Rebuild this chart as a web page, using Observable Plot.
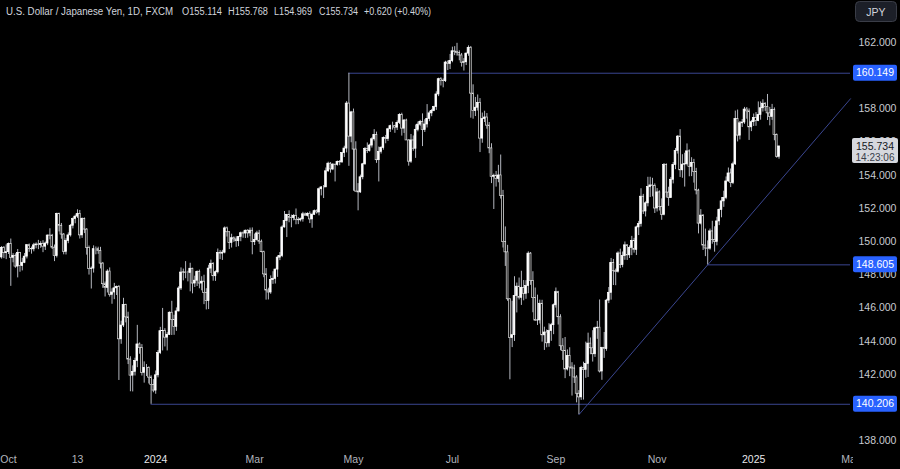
<!DOCTYPE html>
<html><head><meta charset="utf-8">
<script src="https://cdn.jsdelivr.net/npm/d3@7"></script>
<script src="https://cdn.jsdelivr.net/npm/@observablehq/plot@0.6"></script>
<style>
html,body{margin:0;padding:0;background:#000;overflow:hidden}
#chart{width:900px;height:469px}
</style></head><body><div id="chart"></div>
<script>
// ---------- DATA (USD/JPY daily, FXCM) ----------
const dates = [
"2023-09-27","2023-09-28","2023-09-29",
"2023-10-02","2023-10-03","2023-10-04","2023-10-05","2023-10-06","2023-10-09","2023-10-10","2023-10-11","2023-10-12","2023-10-13","2023-10-16","2023-10-17","2023-10-18","2023-10-19","2023-10-20","2023-10-23","2023-10-24","2023-10-25","2023-10-26","2023-10-27","2023-10-30","2023-10-31",
"2023-11-01","2023-11-02","2023-11-03","2023-11-06","2023-11-07","2023-11-08","2023-11-09","2023-11-10","2023-11-13","2023-11-14","2023-11-15","2023-11-16","2023-11-17","2023-11-20","2023-11-21","2023-11-22","2023-11-23","2023-11-24","2023-11-27","2023-11-28","2023-11-29","2023-11-30",
"2023-12-01","2023-12-04","2023-12-05","2023-12-06","2023-12-07","2023-12-08","2023-12-11","2023-12-12","2023-12-13","2023-12-14","2023-12-15","2023-12-18","2023-12-19","2023-12-20","2023-12-21","2023-12-22","2023-12-26","2023-12-27","2023-12-28","2023-12-29",
"2024-01-02","2024-01-03","2024-01-04","2024-01-05","2024-01-08","2024-01-09","2024-01-10","2024-01-11","2024-01-12","2024-01-15","2024-01-16","2024-01-17","2024-01-18","2024-01-19","2024-01-22","2024-01-23","2024-01-24","2024-01-25","2024-01-26","2024-01-29","2024-01-30","2024-01-31",
"2024-02-01","2024-02-02","2024-02-05","2024-02-06","2024-02-07","2024-02-08","2024-02-09","2024-02-12","2024-02-13","2024-02-14","2024-02-15","2024-02-16","2024-02-19","2024-02-20","2024-02-21","2024-02-22","2024-02-23","2024-02-26","2024-02-27","2024-02-28","2024-02-29",
"2024-03-01","2024-03-04","2024-03-05","2024-03-06","2024-03-07","2024-03-08","2024-03-11","2024-03-12","2024-03-13","2024-03-14","2024-03-15","2024-03-18","2024-03-19","2024-03-20","2024-03-21","2024-03-22","2024-03-25","2024-03-26","2024-03-27","2024-03-28","2024-03-29",
"2024-04-01","2024-04-02","2024-04-03","2024-04-04","2024-04-05","2024-04-08","2024-04-09","2024-04-10","2024-04-11","2024-04-12","2024-04-15","2024-04-16","2024-04-17","2024-04-18","2024-04-19","2024-04-22","2024-04-23","2024-04-24","2024-04-25","2024-04-26","2024-04-29","2024-04-30",
"2024-05-01","2024-05-02","2024-05-03","2024-05-06","2024-05-07","2024-05-08","2024-05-09","2024-05-10","2024-05-13","2024-05-14","2024-05-15","2024-05-16","2024-05-17","2024-05-20","2024-05-21","2024-05-22","2024-05-23","2024-05-24","2024-05-27","2024-05-28","2024-05-29","2024-05-30","2024-05-31",
"2024-06-03","2024-06-04","2024-06-05","2024-06-06","2024-06-07","2024-06-10","2024-06-11","2024-06-12","2024-06-13","2024-06-14","2024-06-17","2024-06-18","2024-06-19","2024-06-20","2024-06-21","2024-06-24","2024-06-25","2024-06-26","2024-06-27","2024-06-28",
"2024-07-01","2024-07-02","2024-07-03","2024-07-04","2024-07-05","2024-07-08","2024-07-09","2024-07-10","2024-07-11","2024-07-12","2024-07-15","2024-07-16","2024-07-17","2024-07-18","2024-07-19","2024-07-22","2024-07-23","2024-07-24","2024-07-25","2024-07-26","2024-07-29","2024-07-30","2024-07-31",
"2024-08-01","2024-08-02","2024-08-05","2024-08-06","2024-08-07","2024-08-08","2024-08-09","2024-08-12","2024-08-13","2024-08-14","2024-08-15","2024-08-16","2024-08-19","2024-08-20","2024-08-21","2024-08-22","2024-08-23","2024-08-26","2024-08-27","2024-08-28","2024-08-29","2024-08-30",
"2024-09-02","2024-09-03","2024-09-04","2024-09-05","2024-09-06","2024-09-09","2024-09-10","2024-09-11","2024-09-12","2024-09-13","2024-09-16","2024-09-17","2024-09-18","2024-09-19","2024-09-20","2024-09-23","2024-09-24","2024-09-25","2024-09-26","2024-09-27","2024-09-30",
"2024-10-01","2024-10-02","2024-10-03","2024-10-04","2024-10-07","2024-10-08","2024-10-09","2024-10-10","2024-10-11","2024-10-14","2024-10-15","2024-10-16","2024-10-17","2024-10-18","2024-10-21","2024-10-22","2024-10-23","2024-10-24","2024-10-25","2024-10-28","2024-10-29","2024-10-30","2024-10-31",
"2024-11-01","2024-11-04","2024-11-05","2024-11-06","2024-11-07","2024-11-08","2024-11-11","2024-11-12","2024-11-13","2024-11-14","2024-11-15","2024-11-18","2024-11-19","2024-11-20","2024-11-21","2024-11-22","2024-11-25","2024-11-26","2024-11-27","2024-11-28","2024-11-29",
"2024-12-02","2024-12-03","2024-12-04","2024-12-05","2024-12-06","2024-12-09","2024-12-10","2024-12-11","2024-12-12","2024-12-13","2024-12-16","2024-12-17","2024-12-18","2024-12-19","2024-12-20","2024-12-23","2024-12-24","2024-12-26","2024-12-27","2024-12-30","2024-12-31",
"2025-01-02","2025-01-03","2025-01-06","2025-01-07","2025-01-08","2025-01-09","2025-01-10","2025-01-13","2025-01-14","2025-01-15","2025-01-16","2025-01-17"
];
const open = [
149.05,149.63,149.31,
149.37,149.86,149.03,149.13,148.50,149.32,148.53,148.73,149.10,149.79,149.56,149.54,149.78,149.83,149.80,149.86,149.70,149.89,150.37,150.36,149.64,149.13,
151.67,150.96,150.43,149.39,150.05,150.38,150.96,151.36,151.51,151.66,150.38,151.36,150.73,149.62,148.35,148.38,149.55,149.55,149.44,148.68,147.44,147.22,
148.20,146.80,146.94,147.19,147.27,144.12,144.95,146.18,145.44,142.90,141.93,142.16,142.82,143.81,143.60,142.10,142.40,142.40,141.81,141.37,
141.03,141.95,143.29,144.61,144.62,144.22,144.39,145.72,145.28,144.87,145.80,147.18,148.14,148.15,148.11,148.11,148.37,147.48,147.65,148.17,147.48,147.59,
146.92,146.43,148.38,148.67,147.92,148.16,149.32,149.28,149.34,150.80,150.57,149.93,150.21,150.14,150.03,150.28,150.51,150.49,150.66,150.50,150.66,
149.97,150.10,150.50,150.00,149.37,148.03,147.06,146.94,147.69,147.76,148.32,149.04,149.13,150.86,151.25,151.62,151.44,151.42,151.55,151.32,151.29,
151.35,151.65,151.56,151.68,151.34,151.62,151.84,151.76,153.16,153.27,153.27,154.24,154.70,154.35,154.64,154.63,154.81,154.78,155.34,155.61,158.32,156.33,
157.79,155.55,153.02,152.97,153.88,154.66,155.59,155.47,155.79,156.17,156.43,154.91,155.41,155.65,156.25,156.18,156.77,156.96,156.96,156.87,157.16,157.63,156.81,
157.30,156.10,154.82,156.10,155.60,156.74,157.05,157.21,156.72,157.06,157.40,157.73,157.87,158.11,158.87,159.79,159.70,159.67,160.79,160.70,
160.88,161.47,161.43,161.37,161.22,160.78,160.81,161.33,161.68,158.92,157.87,158.07,158.36,156.21,157.39,157.48,156.99,155.62,153.91,153.97,153.78,153.99,152.76,
149.98,149.36,146.53,144.19,144.37,146.73,147.29,146.62,147.22,146.86,147.33,149.28,147.63,146.60,145.25,145.26,146.26,144.36,144.53,143.88,144.62,144.97,
146.17,146.96,145.45,143.70,143.41,142.30,143.12,142.42,142.36,141.82,140.84,140.62,142.39,142.28,142.63,143.86,143.58,143.22,144.78,144.82,142.18,
143.60,143.53,146.45,146.92,148.71,148.22,148.19,149.29,148.59,149.13,149.78,149.18,149.63,150.04,149.51,150.86,151.06,152.71,151.82,152.31,153.29,153.39,153.36,
152.00,152.97,152.10,151.62,154.62,152.96,152.63,153.73,154.62,155.47,156.33,154.30,154.64,154.67,155.44,154.51,154.75,154.19,153.08,151.09,151.57,
149.77,149.59,149.58,150.62,150.10,149.99,151.22,151.91,152.43,152.64,153.63,154.11,153.53,154.66,157.39,156.39,157.13,157.18,157.96,157.85,156.89,
157.20,157.45,157.27,157.64,158.04,158.31,158.12,157.73,157.51,157.94,156.42,155.114
];
const high = [
149.71,149.71,149.81,
149.92,150.16,149.28,149.27,149.53,149.35,149.00,149.29,149.83,149.86,149.68,149.90,149.93,150.08,150.00,150.06,149.98,150.40,150.78,150.44,149.80,151.72,
151.72,151.10,150.49,150.18,150.53,151.04,151.43,151.60,151.92,151.88,151.43,151.43,150.79,149.74,148.48,149.75,149.68,149.67,149.66,148.75,147.57,148.31,
148.42,147.16,147.49,147.33,147.36,145.21,146.59,146.23,145.75,143.07,142.52,142.98,144.96,143.90,143.80,142.76,142.60,142.46,141.92,141.69,
142.21,143.44,144.84,145.98,144.76,144.52,145.77,146.41,145.57,146.01,147.29,148.42,148.35,148.80,148.22,148.70,148.40,147.92,148.24,148.29,147.89,147.98,
147.17,148.58,148.89,148.73,148.24,149.56,149.46,149.48,150.89,150.88,150.60,150.45,150.29,150.29,150.31,150.58,150.59,150.70,150.72,150.82,150.83,
150.46,150.63,150.68,150.10,149.43,148.38,147.20,147.94,148.19,148.35,149.15,149.35,150.96,151.82,151.64,151.86,151.60,151.64,151.97,151.45,151.42,
151.77,151.73,151.74,151.80,151.72,151.91,151.92,153.24,153.32,153.38,154.44,154.79,154.76,154.70,154.66,154.86,154.89,155.37,155.75,158.44,160.149,157.85,
157.99,156.02,153.50,154.01,154.72,155.67,155.95,155.87,156.26,156.75,156.60,155.70,155.73,156.31,156.40,156.83,157.02,157.20,157.01,157.28,157.71,157.74,157.36,
157.38,156.14,156.46,156.37,157.03,157.21,157.31,157.70,157.35,158.26,157.86,157.97,158.16,159.03,159.85,159.88,159.81,160.87,160.89,161.28,
161.72,161.75,161.95,161.50,161.34,161.03,161.37,161.80,161.76,159.45,158.69,158.84,158.62,157.75,157.86,157.72,157.18,155.90,154.07,154.23,154.60,155.22,153.09,
150.89,149.78,146.57,146.41,147.89,147.51,147.81,148.22,147.66,147.65,149.39,149.35,148.19,147.21,146.78,146.48,146.47,144.85,144.68,145.06,145.08,146.25,
147.21,147.01,145.60,144.16,144.23,143.48,143.61,142.71,142.56,141.93,141.03,142.49,142.74,143.95,144.49,144.20,144.64,144.85,145.20,146.49,143.64,
144.53,146.53,147.24,148.99,148.93,148.35,149.39,149.55,149.38,149.98,149.82,149.75,150.32,150.20,150.94,151.22,153.19,152.85,152.40,153.88,153.88,153.82,153.48,
153.20,153.06,152.58,154.71,154.69,153.28,153.87,154.77,155.62,156.39,156.75,155.24,155.33,155.89,155.53,155.06,154.96,154.42,153.16,151.93,151.63,
150.76,150.05,150.76,151.23,150.90,151.47,151.98,152.66,153.04,153.90,154.44,154.38,154.79,157.87,157.93,157.24,157.36,158.09,158.08,158.00,157.31,
157.69,157.78,158.42,158.42,158.55,158.37,158.87,158.09,158.27,158.06,156.49,155.768
];
const low = [
148.95,148.98,148.92,
149.23,147.31,148.73,148.40,147.82,148.16,148.24,148.68,148.96,149.36,149.25,149.39,149.57,149.52,149.60,149.34,149.47,149.76,150.11,149.53,148.80,149.02,
150.59,150.15,149.21,149.20,149.88,150.28,150.77,151.08,151.40,150.16,150.20,150.49,149.19,147.99,147.15,148.11,149.21,149.24,148.36,147.19,146.67,146.91,
146.66,146.23,146.51,146.76,141.64,143.82,144.83,145.11,142.60,140.96,140.95,141.91,142.41,143.22,141.91,141.48,141.88,141.43,140.206,140.90,
140.81,141.80,143.20,143.42,143.66,143.42,144.35,144.35,144.36,144.60,145.77,147.06,147.64,147.77,147.58,146.98,146.86,147.24,147.30,147.16,147.04,146.21,
145.89,145.91,148.08,147.62,147.61,148.06,148.92,148.87,149.27,150.28,149.53,149.62,149.96,149.66,149.70,150.00,150.21,150.19,150.21,150.30,149.21,
149.77,150.04,149.84,149.33,147.83,146.48,146.49,146.83,147.43,147.45,147.85,148.86,149.04,150.82,150.25,151.14,150.84,151.26,151.02,151.03,151.19,
151.18,151.55,151.49,151.09,150.81,151.59,151.66,151.56,152.76,152.60,153.27,154.18,154.13,154.28,153.60,154.55,154.58,154.72,155.07,155.35,154.54,155.96,
153.04,152.99,151.86,152.91,153.73,154.61,155.31,155.40,155.64,156.06,154.72,153.60,155.28,155.51,155.90,156.04,156.58,156.72,156.53,156.70,157.06,156.36,156.52,
156.10,154.55,154.72,155.45,155.02,156.62,156.95,155.73,156.58,156.85,157.23,157.53,157.83,157.91,158.74,159.38,159.27,159.59,160.31,160.37,
160.78,161.21,161.18,160.90,160.52,160.28,160.61,161.17,157.44,157.38,157.54,157.87,155.37,155.93,157.18,156.78,155.30,153.50,151.94,153.29,153.55,152.57,149.62,
148.51,146.41,141.68,143.62,143.99,145.71,146.49,146.16,146.44,146.53,146.87,147.37,145.72,145.19,144.95,145.04,143.95,143.45,143.61,143.64,144.00,144.40,
146.00,144.98,143.43,142.85,141.75,142.21,141.87,140.70,141.46,140.29,139.58,140.44,140.46,141.77,141.82,143.19,142.75,143.03,144.12,142.09,141.65,
142.97,143.40,146.27,146.48,147.36,147.35,148.11,148.38,148.43,148.88,148.87,148.99,149.16,149.31,149.17,150.37,150.88,151.64,151.49,152.10,152.66,152.70,151.70,
151.79,151.85,151.29,151.56,152.63,152.13,152.60,153.48,154.34,155.28,153.87,153.82,153.29,154.57,153.91,153.92,153.53,152.82,150.47,151.01,149.47,
149.10,148.605,149.49,149.85,149.37,149.75,150.97,151.44,152.07,152.53,153.58,153.26,153.44,154.59,156.01,156.13,156.88,157.07,157.38,156.10,156.63,
156.94,156.95,157.23,157.32,157.81,157.85,157.30,156.98,157.31,156.08,155.03,154.969
];
const close = [
149.63,149.31,149.37,
149.86,149.03,149.13,148.50,149.32,148.53,148.73,149.10,149.79,149.56,149.54,149.78,149.83,149.80,149.86,149.70,149.89,150.37,150.36,149.64,149.13,151.67,
150.96,150.43,149.39,150.05,150.38,150.96,151.36,151.51,151.66,150.38,151.36,150.73,149.62,148.35,148.38,149.55,149.55,149.44,148.68,147.44,147.22,148.20,
146.80,146.94,147.19,147.27,144.12,144.95,146.18,145.44,142.90,141.93,142.16,142.82,143.81,143.60,142.10,142.40,142.40,141.81,141.37,141.03,
141.95,143.29,144.61,144.62,144.22,144.39,145.72,145.28,144.87,145.80,147.18,148.14,148.15,148.11,148.11,148.37,147.48,147.65,148.17,147.48,147.59,146.92,
146.43,148.38,148.67,147.92,148.16,149.32,149.28,149.34,150.80,150.57,149.93,150.21,150.14,150.03,150.28,150.51,150.49,150.66,150.50,150.66,149.97,
150.10,150.50,150.00,149.37,148.03,147.06,146.94,147.69,147.76,148.32,149.04,149.13,150.86,151.25,151.62,151.44,151.42,151.55,151.32,151.29,151.35,
151.65,151.56,151.68,151.34,151.62,151.84,151.76,153.16,153.27,153.27,154.24,154.70,154.35,154.64,154.63,154.81,154.78,155.34,155.61,158.32,156.33,157.79,
155.55,153.02,152.97,153.88,154.66,155.59,155.47,155.79,156.17,156.43,154.91,155.41,155.65,156.25,156.18,156.77,156.96,156.96,156.87,157.16,157.63,156.81,157.30,
156.10,154.82,156.10,155.60,156.74,157.05,157.21,156.72,157.06,157.40,157.73,157.87,158.11,158.87,159.79,159.70,159.67,160.79,160.70,160.88,
161.47,161.43,161.37,161.22,160.78,160.81,161.33,161.68,158.92,157.87,158.07,158.36,156.21,157.39,157.48,156.99,155.62,153.91,153.97,153.78,153.99,152.76,149.98,
149.36,146.53,144.19,144.37,146.73,147.29,146.62,147.22,146.86,147.33,149.28,147.63,146.60,145.25,145.26,146.26,144.36,144.53,143.88,144.62,144.97,146.17,
146.96,145.45,143.70,143.41,142.30,143.12,142.42,142.36,141.82,140.84,140.62,142.39,142.28,142.63,143.86,143.58,143.22,144.78,144.82,142.18,143.60,
143.53,146.45,146.92,148.71,148.22,148.19,149.29,148.59,149.13,149.78,149.18,149.63,150.04,149.51,150.86,151.06,152.71,151.82,152.31,153.29,153.39,153.36,152.00,
152.97,152.10,151.62,154.62,152.96,152.63,153.73,154.62,155.47,156.33,154.30,154.64,154.67,155.44,154.51,154.75,154.19,153.08,151.09,151.57,149.77,
149.59,149.58,150.62,150.10,149.99,151.22,151.91,152.43,152.64,153.63,154.11,153.53,154.66,157.39,156.39,157.13,157.18,157.96,157.85,156.89,157.20,
157.45,157.27,157.64,158.04,158.31,158.12,157.73,157.51,157.94,156.42,155.114,155.734
];

// price axis ticks (160 and 140 sit fully under their level tags in the original, so they are not drawn)
const yTicks = [138, 142, 144, 146, 148, 150, 152, 154, 156, 158, 162];
// time axis ticks
const xTickDates  = ["2023-10-02","2023-11-13","2024-01-02","2024-03-01","2024-05-01","2024-07-01","2024-09-02","2024-11-01","2025-01-02","2025-03-03"];
const xTickLabels = ["Oct","13","2024","Mar","May","Jul","Sep","Nov","2025","Mar"];
// horizontal levels and where they start
const levelValues     = [160.149, 148.605, 140.206];
const levelStartDates = ["2024-04-29", "2024-12-03", "2023-12-28"];
// rising trendline anchored on two swing lows
const trendAnchorDates = ["2024-09-16", "2024-12-03"];

const symbolName = "U.S. Dollar / Japanese Yen, 1D, FXCM";
const currency = "JPY";
const countdown = "14:23:06";

// ---------- BUILD ----------
const bars = dates.map((d, i) => ({i, date: d, open: open[i], high: high[i], low: low[i], close: close[i]}));

function dateIndex(s) {
  const k = dates.indexOf(s);
  if (k >= 0) return k;
  const d = new Date(dates[dates.length - 1] + "T00:00:00Z");
  const t = new Date(s + "T00:00:00Z");
  let n = dates.length - 1;
  while (d < t) { d.setUTCDate(d.getUTCDate() + 1); const w = d.getUTCDay(); if (w !== 0 && w !== 6) n++; }
  return n;
}

const W = 900, H = 469, MR = 50, MB = 25;
const barStep = 2.3, firstPx = 8, firstIdx = 3;
const xMin = firstIdx - firstPx / barStep;
const xMax = firstIdx + (W - MR - firstPx) / barStep;
const yDomain = [137.783, 164.53];

const xTicks = xTickDates.map((d, k) => ({i: dateIndex(d), label: xTickLabels[k], year: /^\d{4}$/.test(xTickLabels[k])}));
const levels = levelValues.map((v, k) => ({value: v, start: dateIndex(levelStartDates[k])}));
const ta = trendAnchorDates.map(d => { const i = dateIndex(d); return {i, y: low[i]}; });
const slope = (ta[1].y - ta[0].y) / (ta[1].i - ta[0].i);
const trend = [ta[0], {i: xMax, y: ta[0].y + slope * (xMax - ta[0].i)}];

const lineColor = "#3a4690";
const font = "'Liberation Sans', Arial, sans-serif";

const plot = Plot.plot({
  width: W, height: H,
  marginTop: 0, marginLeft: 0, marginRight: MR, marginBottom: MB,
  style: {background: "#000", color: "#c9cbd1", fontFamily: font, fontSize: "10.5px"},
  x: {type: "linear", domain: [xMin, xMax], axis: null},
  y: {type: "linear", domain: yDomain, axis: "right", ticks: yTicks, tickFormat: d => d.toFixed(3), tickSize: 0, tickPadding: 8, label: null},
  marks: [
    Plot.ruleY(levels, {y: "value", x1: "start", x2: xMax, stroke: lineColor, strokeWidth: 1}),
    Plot.line(trend, {x: "i", y: "y", stroke: lineColor, strokeWidth: 1}),
    Plot.ruleX(bars, {x: "i", y1: "low", y2: "high", stroke: "#b4b7bf", strokeWidth: 1}),
    Plot.rect(bars, {
      x1: d => d.i - 0.38, x2: d => d.i + 0.38,
      y1: d => Math.min(d.open, d.close), y2: d => Math.max(d.open, d.close),
      fill: d => d.close >= d.open ? "#ffffff" : "#000000",
      stroke: d => d.close >= d.open ? "#ffffff" : "#e2e2e2",
      strokeWidth: 0.7
    }),
    Plot.text(xTicks, {x: "i", text: "label", frameAnchor: "bottom", dy: 18,
      fill: d => d.year ? "#e6e7ea" : "#b2b5be", fontWeight: d => d.year ? "bold" : "normal", fontSize: 10.5})
  ]
});
document.getElementById("chart").appendChild(plot);

// ---------- OVERLAYS (positioned with the plot's scales) ----------
const svg = d3.select(plot);
const ys = plot.scale("y");
const g = svg.append("g").attr("font-family", font).attr("text-anchor", "start");

// cover for the time label running under the price scale
g.append("rect").attr("x", 853).attr("y", H - MB + 2).attr("width", W - 853).attr("height", MB).attr("fill", "#000");

// level tags
levels.forEach(l => {
  const y = ys.apply(l.value);
  g.append("rect").attr("x", 853).attr("y", y - 8).attr("width", 44).attr("height", 16).attr("rx", 2).attr("fill", "#2962ff");
  g.append("text").attr("x", 875).attr("y", y).attr("dy", "0.35em").attr("text-anchor", "middle")
    .attr("font-size", 10.5).attr("fill", "#ffffff").text(l.value.toFixed(3));
});

// last price tag
const last = bars[bars.length - 1];
const yc = ys.apply(last.close);
g.append("rect").attr("x", 852).attr("y", yc - 8).attr("width", 46).attr("height", 25).attr("rx", 2).attr("fill", "#d6d8de");
g.append("text").attr("x", 875).attr("y", yc).attr("dy", "0.35em").attr("text-anchor", "middle")
  .attr("font-size", 10.5).attr("fill", "#131722").text(last.close.toFixed(3));
g.append("text").attr("x", 875).attr("y", yc + 11).attr("dy", "0.35em").attr("text-anchor", "middle")
  .attr("font-size", 10).attr("fill", "#3a3e4a").text(countdown);

// currency button
g.append("rect").attr("x", 855.5).attr("y", 1.5).attr("width", 41).attr("height", 20).attr("rx", 4)
  .attr("fill", "#1c1f28").attr("stroke", "#3a3d47");
g.append("text").attr("x", 876).attr("y", 12).attr("dy", "0.35em").attr("text-anchor", "middle")
  .attr("font-size", 10.5).attr("fill", "#d1d4dc").text(currency);

// header legend
const prev = bars[bars.length - 2];
const chg = last.close - prev.close;
const pct = chg / prev.close * 100;
const sgn = v => (v >= 0 ? "+" : "");
const header = [
  {t: symbolName, x: 6, w: 167},
  {t: "O" + last.open.toFixed(3), x: 182, w: 40},
  {t: "H" + last.high.toFixed(3), x: 228, w: 40},
  {t: "L" + last.low.toFixed(3), x: 274, w: 38},
  {t: "C" + last.close.toFixed(3), x: 319, w: 39},
  {t: sgn(chg) + chg.toFixed(3) + " (" + sgn(pct) + pct.toFixed(2) + "%)", x: 364, w: 67}
];
header.forEach(h => {
  g.append("text").attr("x", h.x).attr("y", 15).attr("font-size", 10).attr("fill", "#d1d4dc")
    .attr("text-anchor", "start")
    .attr("textLength", h.w).attr("lengthAdjust", "spacingAndGlyphs").text(h.t);
});
</script>
</body></html>
